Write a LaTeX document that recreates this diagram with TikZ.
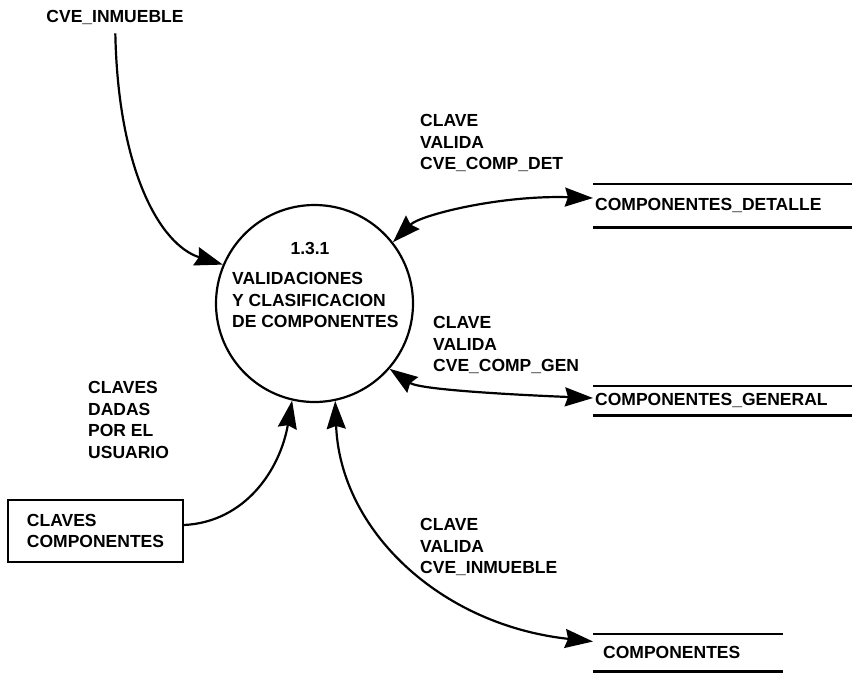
\documentclass[tikz,border=0pt]{standalone}
\usepackage{fontspec}
\setmainfont{Liberation Sans}
\usetikzlibrary{arrows.meta,positioning}

\begin{document}
\begin{tikzpicture}[x=1pt, y=-1pt,
  every node/.style={font=\fontsize{17.5}{21.5}\selectfont\bfseries, inner sep=0pt},
  proc/.style={circle, draw, line width=2.2pt, minimum size=197pt},
  ext/.style={draw, line width=2pt, minimum width=175pt, minimum height=62pt, align=left},
  store/.style={anchor=west, align=left, inner xsep=2pt, text width=255pt},
  lbl/.style={anchor=north west, align=left},
  flow/.style={line width=2.2pt, -{Stealth[length=28pt, width=19pt, inset=3pt]}},
  dflow/.style={line width=2.2pt, {Stealth[length=28pt, width=19pt, inset=3pt]}-{Stealth[length=28pt, width=19pt, inset=3pt]}},
  storeline/.style={line width=2.6pt}
]
\useasboundingbox (0,0) rectangle (852,681);

% process bubble
\node[proc] (p131) at (314.5,303.5) {};
\node (p131num) at (310,248) {1.3.1};
\node[lbl] (p131txt) at (232,272.5) {VALIDACIONES\\Y CLASIFICACION\\DE COMPONENTES};

% external entity and incoming key
\node (cveinm) at (115,17) {CVE\_INMUEBLE};
\node[ext] (claves) at (95.5,531) {CLAVES\\COMPONENTES};

% data stores
\node[store, minimum height=43pt] (det) at (593,205.5) {COMPONENTES\_DETALLE};
\node[store, minimum height=29pt] (gen) at (593,400.5) {COMPONENTES\_GENERAL};
\node[store, minimum height=37pt, inner xsep=10pt, text width=170pt] (comp) at (593,652.5) {COMPONENTES};
\foreach \s in {det,gen,comp} {
  \draw[storeline] (\s.north west) -- (\s.north east);
  \draw[storeline] (\s.south west) -- (\s.south east);
}

% flow labels
\node[lbl] (lbldet) at (420,114.5) {CLAVE\\VALIDA\\CVE\_COMP\_DET};
\node[lbl] (lblgen) at (433,316.5) {CLAVE\\VALIDA\\CVE\_COMP\_GEN};
\node[lbl] (lblinm) at (420,518.5) {CLAVE\\VALIDA\\CVE\_INMUEBLE};
\node[lbl] (lblusr) at (88,381.5) {CLAVES\\DADAS\\POR EL\\USUARIO};

% flows
\draw[flow, shorten <=9pt] (cveinm) .. controls (118,170) and (160,245) .. (p131.157);
\draw[flow] ([yshift=6pt]claves.east) .. controls (245,522) and (280,470) .. (p131.-103);
\draw[dflow] (p131.38) .. controls (420,215) and (500,195) .. ([yshift=7.5pt]det.west);
\draw[dflow] (p131.-41) .. controls (420,390) and (520,395) .. ([yshift=2.5pt]gen.west);
\draw[dflow] (p131.-78) .. controls (340,530) and (440,625) .. ([yshift=11pt]comp.west);

\end{tikzpicture}
\end{document}
